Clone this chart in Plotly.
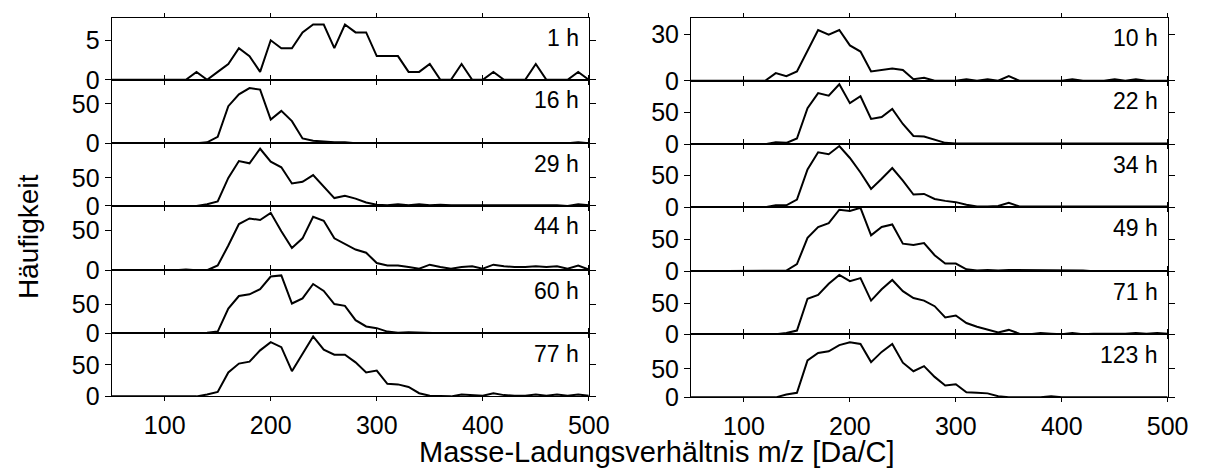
import plotly.graph_objects as go

# ---------------- data ----------------
mz = [50, 60, 70, 80, 90, 100, 110, 120, 130, 140, 150, 160, 170, 180, 190, 200,
      210, 220, 230, 240, 250, 260, 270, 280, 290, 300, 310, 320, 330, 340, 350,
      360, 370, 380, 390, 400, 410, 420, 430, 440, 450, 460, 470, 480, 490, 500]

labels_left = ["1 h", "16 h", "29 h", "44 h", "60 h", "77 h"]
labels_right = ["10 h", "22 h", "34 h", "49 h", "71 h", "123 h"]

h1 = [0, 0, 0, 0, 0, 0, 0, 0, 1, 0, 1, 2, 4, 3, 1, 5, 4, 4, 6, 7, 7, 4, 7, 6, 6,
      3, 3, 3, 1, 1, 2, 0, 0, 2, 0, 0, 1, 0, 0, 0, 2, 0, 0, 0, 1, 0]
h16 = [0, 0, 0, 0, 0, 0, 0, 0, 0, 1, 8, 47, 62, 70, 68, 30, 41, 28, 6, 3, 2, 1, 1,
       0, 0, 0, 0, 0, 0, 0, 0, 0, 0, 0, 0, 0, 0, 0, 0, 0, 0, 0, 0, 0, 1, 0]
h29 = [0, 0, 0, 0, 0, 0, 0, 0, 0, 3, 8, 50, 80, 76, 102, 79, 69, 40, 43, 55, 34,
       14, 18, 13, 6, 2, 1, 3, 1, 3, 1, 2, 1, 1, 2, 2, 1, 1, 1, 1, 1, 1, 1, 0, 3, 1]
h44 = [0, 0, 0, 0, 0, 0, 0, 1, 0, 0, 6, 31, 58, 65, 63, 72, 49, 28, 40, 67, 62,
       40, 33, 26, 22, 9, 6, 6, 4, 2, 7, 4, 2, 4, 5, 2, 7, 5, 4, 4, 5, 4, 5, 2, 6, 1]
h60 = [0, 0, 0, 0, 0, 0, 0, 0, 0, 1, 3, 43, 65, 68, 77, 99, 101, 52, 61, 86, 74,
       51, 48, 23, 12, 9, 3, 1, 2, 1, 0, 0, 0, 0, 0, 0, 0, 0, 0, 0, 0, 0, 0, 0, 0, 0]
h77 = [0, 0, 0, 0, 0, 0, 0, 0, 0, 3, 7, 38, 52, 55, 73, 86, 78, 40, 67, 95, 74,
       66, 66, 54, 38, 41, 20, 19, 15, 5, 1, 0, 0, 3, 2, 1, 5, 2, 1, 1, 3, 1, 3, 1, 3, 1]

h10 = [0, 0, 0, 0, 0, 0, 0, 0, 5, 3, 6, 20, 33, 30, 33, 23, 19, 6, 7, 8, 7, 1, 2,
       0, 0, 0, 1, 0, 1, 0, 3, 0, 0, 0, 0, 0, 1, 0, 0, 0, 1, 0, 1, 0, 0, 0]
h22 = [0, 0, 0, 0, 0, 0, 0, 0, 3, 2, 9, 57, 81, 77, 95, 65, 76, 40, 43, 56, 32,
       13, 12, 7, 2, 1, 1, 1, 1, 1, 1, 1, 1, 2, 2, 1, 2, 1, 1, 1, 1, 1, 2, 1, 2, 1]
h34 = [0, 0, 0, 0, 0, 0, 0, 0, 3, 3, 12, 60, 87, 84, 97, 78, 55, 29, 45, 62, 42,
       20, 21, 13, 10, 8, 4, 1, 1, 2, 7, 1, 1, 1, 2, 1, 1, 1, 1, 1, 1, 2, 1, 1, 1, 1]
h49 = [0, 0, 0, 0, 0, 0, 0, 0, 0, 1, 11, 52, 69, 75, 96, 94, 99, 56, 69, 73, 43,
       41, 44, 25, 12, 12, 3, 1, 2, 1, 2, 2, 1, 2, 2, 1, 2, 1, 0, 0, 0, 0, 1, 0, 1, 0]
h71 = [0, 0, 0, 0, 0, 0, 0, 0, 0, 2, 6, 57, 63, 81, 95, 85, 90, 54, 72, 87, 69,
       58, 54, 45, 27, 30, 18, 12, 7, 3, 7, 1, 0, 2, 1, 0, 2, 0, 1, 1, 0, 1, 2, 1, 2, 1]
h123 = [0, 0, 0, 0, 0, 0, 0, 0, 0, 5, 8, 65, 78, 81, 92, 97, 94, 62, 80, 94, 61,
        46, 55, 36, 21, 23, 9, 8, 7, 2, 0, 0, 0, 0, 2, 0, 0, 0, 0, 0, 0, 1, 0, 0, 0, 0]

series_left = [h1, h16, h29, h44, h60, h77]
series_right = [h10, h22, h34, h49, h71, h123]

ymax_left = [7.86, 80.5, 112, 80.7, 110, 100]
ymax_right = [41, 100.6, 100, 100, 101, 111]
yticks_left = [[0, 5], [0, 50], [0, 50], [0, 50], [0, 50], [0, 50]]
yticks_right = [[0, 30], [0, 50], [0, 50], [0, 50], [0, 50], [0, 50]]
xticks = [100, 200, 300, 400, 500]

x_title = "Masse-Ladungsverhältnis m/z [Da/C]"
y_title = "Häufigkeit"

# ---------------- layout geometry (pixels) ----------------
W, H = 1218, 470
col_x = [(105.5, 591.0), (695.0, 1180.0)]
edges = [[10, 74, 139.3, 204, 270.3, 335.3, 400.3],
         [10, 75, 140.3, 205.3, 271.3, 336.3, 401.3]]

FONT = "Arial, Liberation Sans, sans-serif"

fig = go.Figure()
layout = {}
annotations = []
k = 0
for c, (series, ymaxs, yticks, labels) in enumerate([
        (series_left, ymax_left, yticks_left, labels_left),
        (series_right, ymax_right, yticks_right, labels_right)]):
    for r in range(6):
        k += 1
        xa = "x" if k == 1 else f"x{k}"
        ya = "y" if k == 1 else f"y{k}"
        fig.add_trace(go.Scatter(x=mz, y=series[r], mode="lines",
                                 line=dict(color="black", width=2),
                                 xaxis=xa, yaxis=ya, showlegend=False,
                                 hoverinfo="skip"))
        top, bot = edges[c][r], edges[c][r + 1]
        x0, x1 = col_x[c]
        sfx = "" if k == 1 else str(k)
        layout["xaxis" + sfx] = dict(
            domain=[x0 / W, x1 / W], range=[50, 500], anchor=ya,
            showline=True, linecolor="black", linewidth=1, mirror="ticks",
            ticks="outside", ticklen=4, tickwidth=1, tickcolor="black",
            tickvals=xticks, showticklabels=(r == 5), showgrid=False,
            ticklabelstandoff=3,
            zeroline=False, tickfont=dict(family=FONT, size=25, color="black"),
            fixedrange=True)
        layout["yaxis" + sfx] = dict(
            domain=[1 - bot / H, 1 - top / H], range=[0, ymaxs[r]], anchor=xa,
            showline=True, linecolor="black", linewidth=1, mirror="ticks",
            ticks="outside", ticklen=6, tickwidth=1, tickcolor="black",
            tickvals=yticks[r], showgrid=False, zeroline=False,
            tickfont=dict(family=FONT, size=25, color="black"),
            fixedrange=True)
        annotations.append(dict(
            text=labels[r], xref=f"x{sfx} domain" if sfx else "x domain",
            yref=f"y{sfx} domain" if sfx else "y domain",
            x=1, y=1, xanchor="right", yanchor="middle", xshift=-8, yshift=-20.5,
            showarrow=False, font=dict(family=FONT, size=23, color="black")))

annotations.append(dict(text=x_title, xref="paper", yref="paper",
                        x=660 / W, y=1 - 457.5 / H, xanchor="center", yanchor="middle",
                        showarrow=False,
                        font=dict(family=FONT, size=29, color="black")))
annotations.append(dict(text=y_title, xref="paper", yref="paper",
                        x=21.5 / W, y=1 - 236 / H, xanchor="center", yanchor="middle",
                        textangle=-90, showarrow=False,
                        font=dict(family=FONT, size=28, color="black")))

fig.update_layout(**layout)
fig.update_layout(width=W, height=H, margin=dict(l=0, r=0, t=0, b=0),
                  paper_bgcolor="white", plot_bgcolor="white",
                  annotations=annotations, showlegend=False,
                  font=dict(family=FONT, color="black"))

fig.write_html("out.html", config={"displayModeBar": False})
